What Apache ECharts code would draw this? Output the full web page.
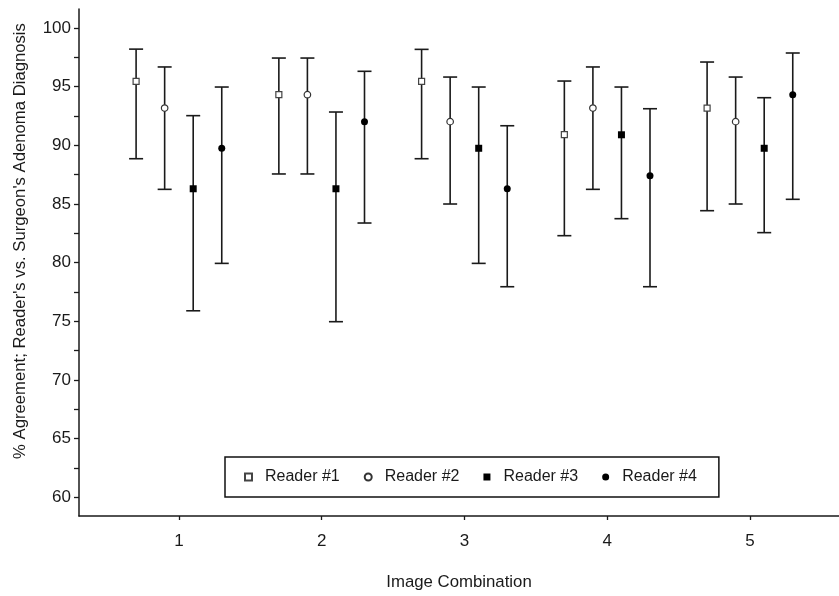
<!DOCTYPE html>
<html>
<head>
<meta charset="utf-8">
<script src="https://cdn.jsdelivr.net/npm/echarts@6/dist/echarts.min.js"></script>
<style>
html,body{margin:0;padding:0;background:#fff;}
#chart{width:839px;height:596px;}
</style>
</head>
<body>
<div id="chart"></div>
<script>
var categories = [1, 2, 3, 4, 5];
var readerNames = ['Reader #1', 'Reader #2', 'Reader #3', 'Reader #4'];

var r1Mean = [95.45, 94.32, 95.45, 90.91, 93.18];
var r1Low  = [88.86, 87.56, 88.86, 82.30, 84.43];
var r1High = [98.20, 97.44, 98.18, 95.48, 97.10];

var r2Mean = [93.18, 94.32, 92.02, 93.18, 92.02];
var r2Low  = [86.25, 87.56, 85.00, 86.25, 85.00];
var r2High = [96.68, 97.44, 95.82, 96.68, 95.82];

var r3Mean = [86.30, 86.30, 89.75, 90.90, 89.75];
var r3Low  = [75.90, 74.97, 79.94, 83.75, 82.56];
var r3High = [92.53, 92.84, 94.97, 94.97, 94.06];

var r4Mean = [89.75, 92.02, 86.30, 87.41, 94.32];
var r4Low  = [79.94, 83.38, 77.95, 77.95, 85.40];
var r4High = [94.97, 96.31, 91.67, 93.12, 97.87];

var yLabelValues = [60, 65, 70, 75, 80, 85, 90, 95, 100];
var yTickValues = [60, 62.5, 65, 67.5, 70, 72.5, 75, 77.5, 80, 82.5, 85, 87.5, 90, 92.5, 95, 97.5, 100];

var FONT = '"Liberation Sans", Arial, sans-serif';
var INK = '#1a1a1a';

var readers = [
  {mean: r1Mean, low: r1Low, high: r1High, offset: -0.3, symbol: 'rect', size: 6, fill: '#fff', border: '#444', bw: 1.2},
  {mean: r2Mean, low: r2Low, high: r2High, offset: -0.1, symbol: 'circle', size: 6.5, fill: '#fff', border: '#333', bw: 1.2},
  {mean: r3Mean, low: r3Low, high: r3High, offset: 0.1, symbol: 'rect', size: 7, fill: '#000', border: '#000', bw: 0},
  {mean: r4Mean, low: r4Low, high: r4High, offset: 0.3, symbol: 'circle', size: 7, fill: '#000', border: '#000', bw: 0}
];

var series = [];
readers.forEach(function (r, i) {
  var off = r.offset;
  series.push({
    type: 'custom',
    name: readerNames[i] + ' CI',
    silent: true,
    z: 2,
    clip: false,
    data: categories.map(function (c, k) { return [c, r.low[k], r.high[k]]; }),
    encode: {x: 0, y: [1, 2]},
    renderItem: function (params, api) {
      var x = api.value(0) + off;
      var lo = api.coord([x, api.value(1)]);
      var hi = api.coord([x, api.value(2)]);
      var hw = 7;
      var st = {stroke: INK, lineWidth: 1.6, fill: null};
      return {
        type: 'group',
        children: [
          {type: 'line', shape: {x1: lo[0], y1: lo[1], x2: hi[0], y2: hi[1]}, style: st},
          {type: 'line', shape: {x1: hi[0] - hw, y1: hi[1], x2: hi[0] + hw, y2: hi[1]}, style: st},
          {type: 'line', shape: {x1: lo[0] - hw, y1: lo[1], x2: lo[0] + hw, y2: lo[1]}, style: st}
        ]
      };
    }
  });
  series.push({
    type: 'scatter',
    name: readerNames[i],
    z: 5,
    symbol: r.symbol,
    symbolSize: r.size,
    itemStyle: {color: r.fill, borderColor: r.border, borderWidth: r.bw, opacity: 1},
    emphasis: {disabled: true},
    data: categories.map(function (c, k) { return [c + off, r.mean[k]]; })
  });
});

var chart = echarts.init(document.getElementById('chart'), null, {renderer: 'canvas'});
chart.setOption({
  animation: false,
  backgroundColor: '#fff',
  textStyle: {fontFamily: FONT},
  grid: {left: 79, right: 0, top: 9, bottom: 80, containLabel: false},
  xAxis: {
    type: 'value',
    min: 0.3,
    max: 5.624,
    name: 'Image Combination',
    nameLocation: 'middle',
    nameGap: 58,
    nameTextStyle: {fontSize: 16.8, color: INK, fontFamily: FONT},
    axisLine: {show: true, onZero: false, lineStyle: {color: INK, width: 1.5}},
    axisTick: {show: true, inside: false, length: 4, customValues: categories, lineStyle: {color: INK, width: 1.3}},
    axisLabel: {customValues: categories, fontSize: 17, color: INK, margin: 17, fontFamily: FONT},
    splitLine: {show: false}
  },
  yAxis: {
    type: 'value',
    min: 58.41,
    max: 101.62,
    axisLine: {show: true, onZero: false, lineStyle: {color: INK, width: 1.5}},
    axisTick: {show: true, inside: false, length: 5, customValues: yTickValues, lineStyle: {color: INK, width: 1.3}},
    axisLabel: {customValues: yLabelValues, fontSize: 17, color: INK, margin: 8, fontFamily: FONT},
    splitLine: {show: false}
  },
  legend: {
    data: readerNames,
    left: 225,
    top: 457,
    orient: 'horizontal',
    itemWidth: 7,
    itemHeight: 7,
    itemGap: 24,
    padding: [12, 22, 12, 19],
    borderColor: '#111',
    borderWidth: 1.5,
    backgroundColor: '#fff',
    selectedMode: false,
    textStyle: {fontSize: 16, color: INK, fontFamily: FONT, padding: [0, 0, 0, 8]}
  },
  graphic: [{
    type: 'text',
    x: 20,
    y: 241,
    rotation: Math.PI / 2,
    style: {
      text: "% Agreement; Reader's vs. Surgeon's Adenoma Diagnosis",
      fontSize: 16.7,
      fontFamily: FONT,
      fill: INK,
      align: 'center',
      verticalAlign: 'middle'
    }
  }],
  series: series
});
</script>
</body>
</html>
